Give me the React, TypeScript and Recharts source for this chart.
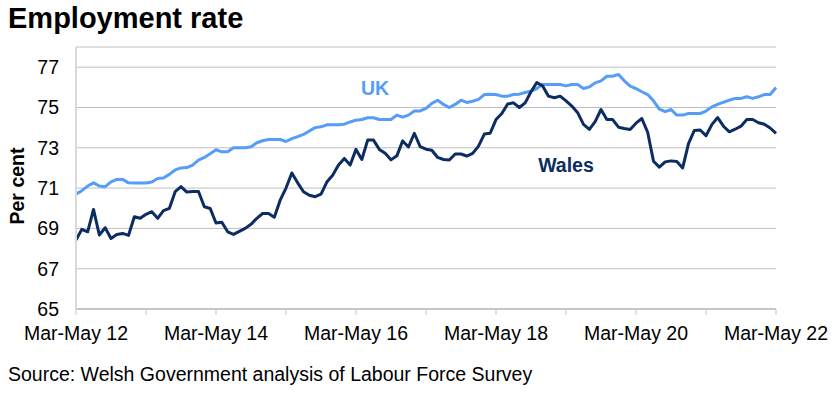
import { CartesianGrid, Line, LineChart, XAxis, YAxis } from 'recharts'

// rolling quarters, index 0 = Mar-May 12 ... 120 = Mar-May 22
const ukRate = [
  70.7, 70.87, 71.1, 71.26, 71.1, 71.07, 71.31, 71.43, 71.43, 71.26, 71.25, 71.25,
  71.25, 71.3, 71.48, 71.5, 71.68, 71.9, 72.0, 72.02, 72.14, 72.39, 72.52, 72.7,
  72.9, 72.8, 72.8, 73.0, 73.0, 73.0, 73.05, 73.25, 73.35, 73.41, 73.41, 73.41,
  73.31, 73.45, 73.55, 73.66, 73.83, 74.0, 74.04, 74.14, 74.14, 74.14, 74.17, 74.28,
  74.37, 74.4, 74.49, 74.49, 74.4, 74.4, 74.4, 74.62, 74.52, 74.62, 74.82, 74.83,
  74.95, 75.2, 75.36, 75.15, 75.0, 75.15, 75.36, 75.25, 75.31, 75.4, 75.64, 75.65,
  75.64, 75.56, 75.56, 75.64, 75.66, 75.74, 75.81, 75.94, 76.14, 76.14, 76.14, 76.14,
  76.07, 76.14, 76.14, 75.94, 76.02, 76.22, 76.32, 76.55, 76.55, 76.64, 76.32, 76.06,
  75.94, 75.78, 75.64, 75.33, 74.92, 74.79, 74.9, 74.62, 74.62, 74.7, 74.7, 74.7,
  74.82, 75.03, 75.15, 75.26, 75.36, 75.45, 75.45, 75.53, 75.45, 75.53, 75.64, 75.64,
  75.99,
]

const walesRate = [
  68.42, 68.95, 68.83, 69.94, 68.67, 69.03, 68.5, 68.7, 68.75, 68.65, 69.58, 69.5,
  69.7, 69.83, 69.5, 69.88, 69.99, 70.82, 71.07, 70.8, 70.83, 70.83, 70.07, 69.99,
  69.27, 69.3, 68.83, 68.7, 68.85, 69.0, 69.2, 69.5, 69.74, 69.74, 69.55, 70.4,
  71.0, 71.75, 71.26, 70.82, 70.64, 70.57, 70.7, 71.3, 71.64, 72.14, 72.47, 72.14,
  72.92, 72.42, 73.38, 73.38, 72.92, 72.73, 72.4, 72.6, 73.34, 73.04, 73.72, 73.06,
  72.93, 72.88, 72.52, 72.42, 72.39, 72.69, 72.69, 72.59, 72.72, 73.08, 73.68, 73.72,
  74.4, 74.7, 75.17, 75.23, 75.0, 75.23, 75.78, 76.24, 76.06, 75.56, 75.48, 75.56,
  75.33, 75.07, 74.74, 74.16, 73.91, 74.3, 74.9, 74.4, 74.4, 74.02, 73.96, 73.91,
  74.22, 74.45, 73.77, 72.33, 72.04, 72.3, 72.35, 72.32, 72.0, 73.21, 73.86, 73.88,
  73.6, 74.15, 74.5, 74.07, 73.79, 73.92, 74.07, 74.4, 74.4, 74.24, 74.17, 73.98,
  73.71,
]

const xTicks = [0, 12, 24, 36, 48, 60, 72, 84, 96, 108, 120]
const xTickLabels = [
  'Mar-May 12', '', 'Mar-May 14', '', 'Mar-May 16', '', 'Mar-May 18', '', 'Mar-May 20', '', 'Mar-May 22',
]
const yTicks = [65, 67, 69, 71, 73, 75, 77]

const UK_BLUE = '#559DF6'
const WALES_NAVY = '#0B2D61'
const FONT = '"Liberation Sans", Arial, sans-serif'

const rows = ukRate.map((uk, idx) => ({ idx, uk, wales: walesRate[idx] }))

export default function App() {
  return (
    <div
      style={{
        position: 'absolute',
        left: 0,
        top: 0,
        width: 837,
        height: 395,
        background: '#fff',
        fontFamily: FONT,
        color: '#000',
      }}
    >
      <div style={{ position: 'absolute', left: 8, top: 4, fontSize: 29, fontWeight: 700, lineHeight: 1 }}>
        Employment rate
      </div>
      <LineChart width={837} height={395} data={rows} margin={{ top: 47, right: 61, left: 0, bottom: 46 }}>
        <CartesianGrid vertical={false} stroke="#BFBFBF" strokeWidth={1} />
        <XAxis
          type="number"
          dataKey="idx"
          domain={[0, 120]}
          ticks={xTicks}
          interval={0}
          tickFormatter={(v) => xTickLabels[Number(v) / 12] ?? ''}
          axisLine={{ stroke: '#C6C6C6', strokeWidth: 2 }}
          tickLine={{ stroke: '#C6C6C6', strokeWidth: 1 }}
          tickSize={6}
          tickMargin={11}
          tick={{ fill: '#000', fontSize: 19.5, fontFamily: FONT }}
          height={40}
        />
        <YAxis
          type="number"
          domain={[65, 78]}
          ticks={yTicks}
          interval={0}
          width={76}
          axisLine={{ stroke: '#D9D9D9', strokeWidth: 2 }}
          tickLine={false}
          tickSize={0}
          tickMargin={17}
          tick={{ fill: '#000', fontSize: 19.5, fontFamily: FONT }}
        />
        <Line
          type="linear"
          dataKey="uk"
          name="UK"
          stroke={UK_BLUE}
          strokeWidth={3}
          strokeLinejoin="round"
          dot={false}
          isAnimationActive={false}
        />
        <Line
          type="linear"
          dataKey="wales"
          name="Wales"
          stroke={WALES_NAVY}
          strokeWidth={3}
          strokeLinejoin="round"
          dot={false}
          isAnimationActive={false}
        />
      </LineChart>
      <div
        style={{
          position: 'absolute',
          left: 18,
          top: 186,
          transform: 'translate(-50%, -50%) rotate(-90deg)',
          fontSize: 19.5,
          fontWeight: 700,
          whiteSpace: 'nowrap',
          lineHeight: 1,
        }}
      >
        Per cent
      </div>
      <div
        style={{
          position: 'absolute',
          left: 375,
          top: 89,
          transform: 'translate(-50%, -50%)',
          fontSize: 19.5,
          fontWeight: 700,
          color: UK_BLUE,
          lineHeight: 1,
        }}
      >
        UK
      </div>
      <div
        style={{
          position: 'absolute',
          left: 566,
          top: 166,
          transform: 'translate(-50%, -50%)',
          fontSize: 19.5,
          fontWeight: 700,
          color: WALES_NAVY,
          lineHeight: 1,
        }}
      >
        Wales
      </div>
      <div style={{ position: 'absolute', left: 8, top: 365, fontSize: 19.5, lineHeight: 1, whiteSpace: 'nowrap' }}>
        Source: Welsh Government analysis of Labour Force Survey
      </div>
    </div>
  )
}
